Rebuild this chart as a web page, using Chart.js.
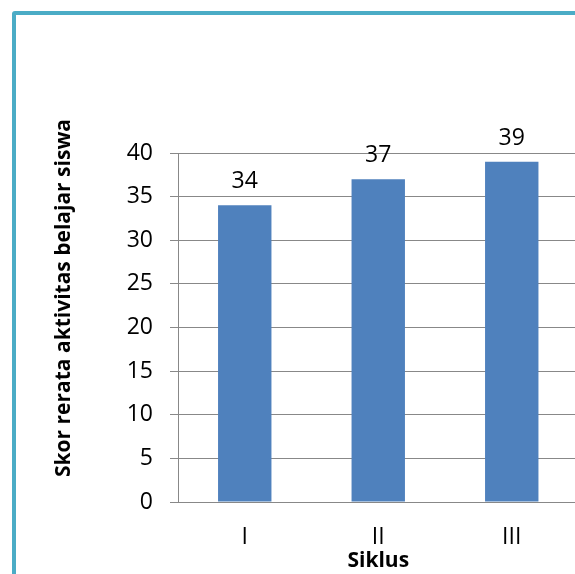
<!DOCTYPE html>
<html>
<head>
<meta charset="utf-8">
<script src="https://cdn.jsdelivr.net/npm/chart.js@4/dist/chart.umd.min.js"></script>
<style>
html, body { margin: 0; padding: 0; background: #fff; overflow: hidden; }
#wrap { position: relative; width: 575px; height: 574px; overflow: hidden; }
#frame { position: absolute; left: 12px; top: 11px; width: 700px; height: 700px; border: 4px solid #4BACC6; border-radius: 3px; box-sizing: border-box; }
#chart { position: absolute; left: 0; top: 0; }
</style>
</head>
<body>
<div id="wrap">
  <div id="frame"></div>
  <canvas id="chart" width="600" height="574"></canvas>
</div>
<script>
const categories = ['I', 'II', 'III'];
const scores = [34, 37, 39];
const yTitle = 'Skor rerata aktivitas belajar siswa';
const xTitle = 'Siklus';

const gridColor = '#888888';
const fontFamily = '"Open Sans", Lato, sans-serif';

// bar values on top + rotated y title (offset from the plot centre like the original)
const extras = {
    id: 'extras',
    afterDatasetsDraw(chart) {
        const ctx = chart.ctx;
        ctx.save();
        ctx.fillStyle = '#000';
        ctx.font = '23px ' + fontFamily;
        ctx.textAlign = 'center';
        ctx.textBaseline = 'alphabetic';
        chart.getDatasetMeta(0).data.forEach((bar, i) => {
            ctx.fillText(scores[i], bar.x, bar.y - 17);
        });
        ctx.restore();
    },
    afterDraw(chart) {
        const ctx = chart.ctx;
        ctx.save();
        ctx.translate(64, 298);
        ctx.rotate(-Math.PI / 2);
        ctx.fillStyle = '#000';
        ctx.font = 'bold 21px ' + fontFamily;
        ctx.textAlign = 'center';
        ctx.textBaseline = 'middle';
        ctx.fillText(yTitle, 0, 0);
        ctx.restore();
    }
};

new Chart(document.getElementById('chart'), {
    type: 'bar',
    data: {
        labels: categories,
        datasets: [{
            data: scores,
            backgroundColor: '#4F81BD',
            borderWidth: 0,
            barPercentage: 0.4,
            categoryPercentage: 1.0
        }]
    },
    options: {
        responsive: false,
        devicePixelRatio: 1,
        animation: false,
        layout: { padding: { top: 153, right: 21.5, bottom: 0, left: 0 } },
        plugins: {
            legend: { display: false },
            tooltip: { enabled: false }
        },
        scales: {
            x: {
                afterFit: scale => { scale.height = 72; },
                grid: { display: false },
                border: { display: true, color: gridColor, width: 1 },
                ticks: { color: '#000', font: { family: fontFamily, size: 23 }, padding: 14 },
                title: {
                    display: true,
                    text: xTitle,
                    color: '#000',
                    font: { family: fontFamily, size: 21, weight: 'bold' },
                    padding: { top: 0, bottom: 0 }
                }
            },
            y: {
                min: 0,
                max: 40,
                afterFit: scale => { scale.width = 178; },
                grid: { color: gridColor, lineWidth: 1, drawTicks: true, tickLength: 8 },
                border: { display: true, color: gridColor, width: 1 },
                ticks: { stepSize: 5, color: '#000', font: { family: fontFamily, size: 23 }, padding: 17 }
            }
        }
    },
    plugins: [extras]
});
</script>
</body>
</html>
